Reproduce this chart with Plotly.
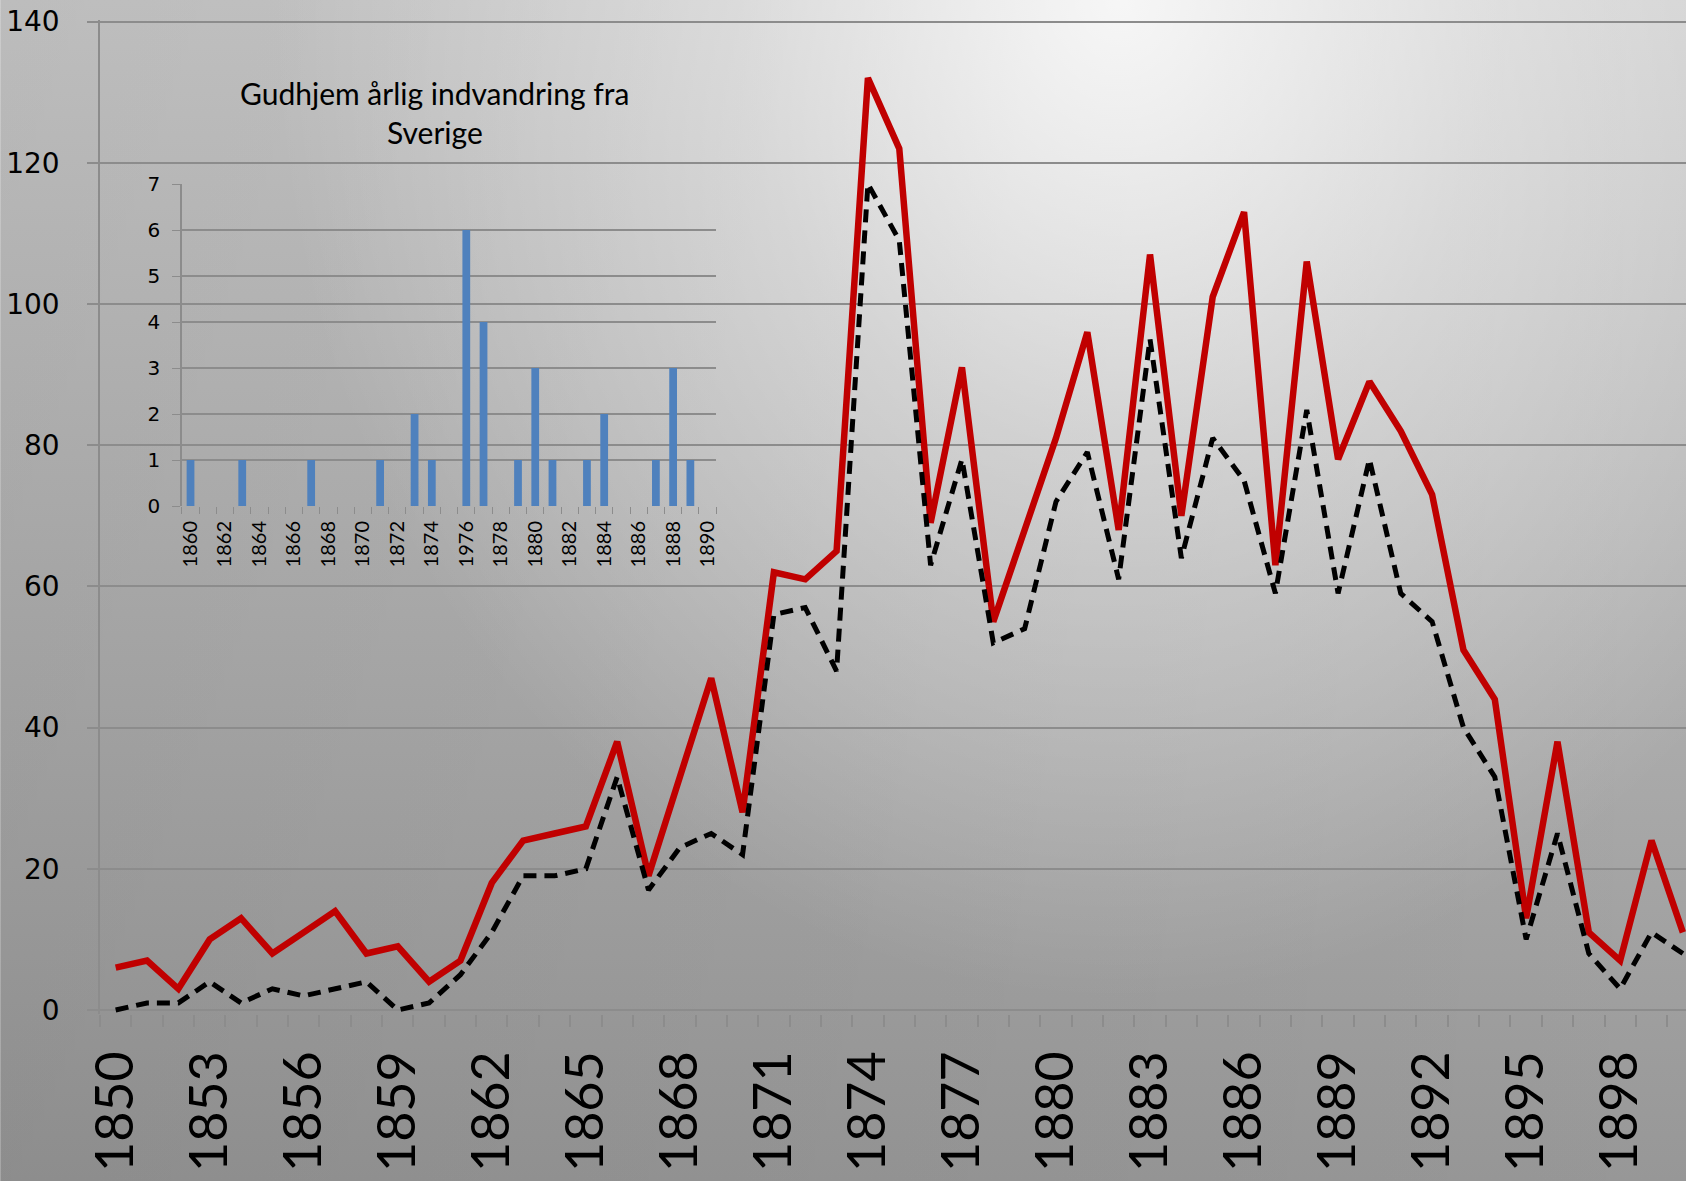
import base64
import plotly.graph_objects as go

# ---------------- data ----------------
years = [1850, 1851, 1852, 1853, 1854, 1855, 1856, 1857, 1858, 1859,
         1860, 1861, 1862, 1863, 1864, 1865, 1866, 1867, 1868, 1869,
         1870, 1871, 1872, 1873, 1874, 1875, 1876, 1877, 1878, 1879,
         1880, 1881, 1882, 1883, 1884, 1885, 1886, 1887, 1888, 1889,
         1890, 1891, 1892, 1893, 1894, 1895, 1896, 1897, 1898, 1899,
         1900]

total_red = [6, 7, 3, 10, 13, 8, 11, 14, 8, 9,
             4, 7, 18, 24, 25, 26, 38, 19, 33, 47,
             28, 62, 61, 65, 132, 122, 69, 91, 55, 68,
             81, 96, 68, 107, 70, 101, 113, 63, 106, 78,
             89, 82, 73, 51, 44, 13, 38, 11, 7, 24,
             11]

series_black = [0, 1, 1, 4, 1, 3, 2, 3, 4, 0,
                1, 5, 11, 19, 19, 20, 33, 17, 23, 25,
                22, 56, 57, 48, 117, 109, 63, 78, 52, 54,
                72, 79, 61, 95, 64, 81, 75, 59, 85, 59,
                78, 59, 55, 40, 33, 10, 25, 8, 3, 11,
                8]

main_tick_years = [1850, 1853, 1856, 1859, 1862, 1865, 1868, 1871, 1874,
                   1877, 1880, 1883, 1886, 1889, 1892, 1895, 1898]
main_tick_labels = ["1850", "1853", "1856", "1859", "1862", "1865", "1868",
                    "1871", "1874", "1877", "1880", "1883", "1886", "1889",
                    "1892", "1895", "1898"]
main_y_ticks = [0, 20, 40, 60, 80, 100, 120, 140]

inset_years = [1860, 1861, 1862, 1863, 1864, 1865, 1866, 1867, 1868, 1869,
               1870, 1871, 1872, 1873, 1874, 1875, 1876, 1877, 1878, 1879,
               1880, 1881, 1882, 1883, 1884, 1885, 1886, 1887, 1888, 1889,
               1890]
inset_values = [1, 0, 0, 1, 0, 0, 0, 1, 0, 0,
                0, 1, 0, 2, 1, 0, 6, 4, 0, 1,
                3, 1, 0, 1, 2, 0, 0, 1, 3, 1,
                0]
inset_tick_years = [1860, 1862, 1864, 1866, 1868, 1870, 1872, 1874, 1876,
                    1878, 1880, 1882, 1884, 1886, 1888, 1890]
inset_tick_labels = ["1860", "1862", "1864", "1866", "1868", "1870", "1872",
                     "1874", "1976", "1878", "1880", "1882", "1884", "1886",
                     "1888", "1890"]
inset_y_ticks = [0, 1, 2, 3, 4, 5, 6, 7]
inset_title_1 = "Gudhjem årlig indvandring fra"
inset_title_2 = "Sverige"

# ---------------- geometry ----------------
W, H = 1688, 1181
ML, MR, MT, MB = 100, 0, 20, 167
PW, PH = W - ML - MR, H - MT - MB

GRID = "#8c8c8c"

# background gradient (SVG data URI)
svg = f"""<svg xmlns='http://www.w3.org/2000/svg' width='{W}' height='{H}' viewBox='0 0 {W} {H}' preserveAspectRatio='none'>
<defs>
<linearGradient id='v' x1='0' y1='0' x2='0' y2='1'>
<stop offset='0' stop-color='#cbcbcb'/><stop offset='1' stop-color='#979797'/>
</linearGradient>
<linearGradient id='h' x1='0' y1='0' x2='1' y2='0'>
<stop offset='0' stop-color='#000' stop-opacity='0.07'/><stop offset='1' stop-color='#000' stop-opacity='0'/>
</linearGradient>
<radialGradient id='r' gradientUnits='userSpaceOnUse' cx='0' cy='0' r='1' gradientTransform='translate(1120 0) scale(850 1000)'>
<stop offset='0' stop-color='#fff' stop-opacity='0.85'/>
<stop offset='0.45' stop-color='#fff' stop-opacity='0.40'/>
<stop offset='1' stop-color='#fff' stop-opacity='0'/>
</radialGradient>
</defs>
<rect x='0' y='0' width='{W}' height='{H}' fill='url(#v)'/>
<rect x='0' y='0' width='{W}' height='{H}' fill='url(#h)'/>
<rect x='0' y='0' width='{W}' height='{H}' fill='url(#r)'/>
</svg>"""
bg_src = "data:image/svg+xml;base64," + base64.b64encode(svg.encode("utf-8")).decode("ascii")

fig = go.Figure()

fig.add_trace(go.Scatter(
    x=years, y=total_red, mode="lines",
    line=dict(color="#C00000", width=6.5),
    xaxis="x", yaxis="y", hoverinfo="x+y", showlegend=False))

fig.add_trace(go.Scatter(
    x=years, y=series_black, mode="lines",
    line=dict(color="black", width=5, dash="13px,8px"),
    xaxis="x", yaxis="y", hoverinfo="x+y", showlegend=False))

fig.add_trace(go.Bar(
    x=inset_years, y=inset_values, width=0.45,
    marker=dict(color="#4F81BD", line=dict(width=0)),
    xaxis="x2", yaxis="y2", showlegend=False))

# y range so that 0 -> y=1010px and 140 -> y=21.5px
ppu = (1010 - 21.5) / 140.0
y_top = 140 + (21.5 - MT) / ppu
y_bot = -((MT + PH) - 1010) / ppu

# inset domains
ix0 = (182 - ML) / PW
ix1 = (717 - ML) / PW
iy0 = ((MT + PH) - 506) / PH
iy1 = ((MT + PH) - 184) / PH

fig.update_layout(
    width=W, height=H,
    margin=dict(l=ML, r=MR, t=MT, b=MB, pad=0),
    paper_bgcolor="rgba(0,0,0,0)",
    plot_bgcolor="rgba(0,0,0,0)",
    showlegend=False,
    bargap=0.5,
    xaxis=dict(
        domain=[0, 1], range=[1849.5, 1900.1],
        tickmode="array", tickvals=main_tick_years, ticktext=main_tick_labels,
        tickangle=-90, tickfont=dict(family="Lato, Liberation Sans, sans-serif", size=52, color="black"),
        ticks="", showgrid=False, zeroline=False, showline=False,
        ticklabelstandoff=26,
        minor=dict(tick0=1849.5, dtick=1, ticks="outside", ticklen=12,
                   tickcolor=GRID, tickwidth=1.5, showgrid=False),
    ),
    yaxis=dict(
        domain=[0, 1], range=[y_bot, y_top],
        tickmode="array", tickvals=main_y_ticks,
        tickfont=dict(family="DejaVu Sans, sans-serif", size=28, color="black"),
        showgrid=True, gridcolor=GRID, gridwidth=1.5,
        zeroline=False, showline=True, linecolor=GRID, linewidth=1.5,
        ticks="outside", ticklen=11, tickcolor=GRID, tickwidth=1.5,
        ticklabelstandoff=22,
    ),
    xaxis2=dict(
        domain=[ix0, ix1], anchor="y2", range=[1859.5, 1890.5],
        tickmode="array", tickvals=inset_tick_years, ticktext=inset_tick_labels,
        tickangle=-90, tickfont=dict(family="Lato, Liberation Sans, sans-serif", size=20, color="black"),
        ticks="", showgrid=False, zeroline=False, showline=False,
        ticklabelstandoff=10,
        minor=dict(tick0=1859.5, dtick=1, ticks="outside", ticklen=7,
                   tickcolor=GRID, tickwidth=1.2, showgrid=False),
    ),
    yaxis2=dict(
        domain=[iy0, iy1], anchor="x2", range=[0, 7],
        tickmode="array", tickvals=inset_y_ticks,
        tickfont=dict(family="DejaVu Sans, sans-serif", size=20, color="black"),
        showgrid=True, gridcolor=GRID, gridwidth=1.5,
        zeroline=False, showline=True, linecolor=GRID, linewidth=1.5,
        ticks="outside", ticklen=8, tickcolor=GRID, tickwidth=1.2,
        ticklabelstandoff=8,
    ),
    images=[dict(
        source=bg_src, xref="paper", yref="paper",
        x=-ML / PW, y=1 + MT / PH, sizex=W / PW, sizey=H / PH,
        xanchor="left", yanchor="top", sizing="stretch", layer="below",
    )],
    annotations=[
        dict(text=inset_title_1, xref="paper", yref="paper",
             x=(435 - ML) / PW, y=((MT + PH) - 93) / PH,
             xanchor="center", yanchor="middle", showarrow=False,
             font=dict(family="Lato, sans-serif", size=30, color="black")),
        dict(text=inset_title_2, xref="paper", yref="paper",
             x=(435 - ML) / PW, y=((MT + PH) - 132) / PH,
             xanchor="center", yanchor="middle", showarrow=False,
             font=dict(family="Lato, sans-serif", size=30, color="black")),
    ],
)

fig.write_html(
    "out.html",
    config={"displayModeBar": False},
    post_script="document.body.style.margin='0';document.body.style.padding='0';"
                "document.body.style.overflow='hidden';",
)
